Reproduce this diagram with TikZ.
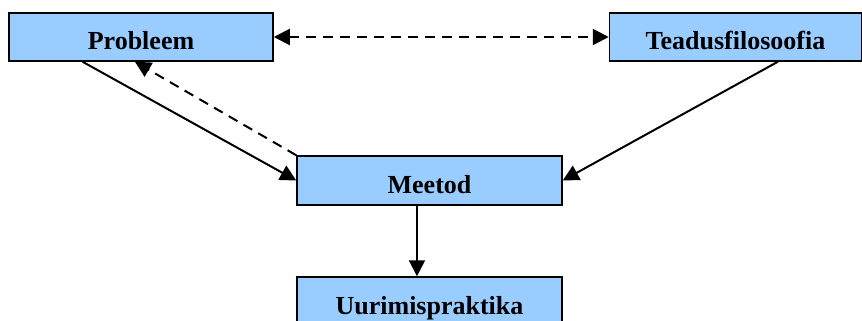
\documentclass[tikz,border=0pt]{standalone}
\usepackage{fontspec}
\setmainfont{Liberation Serif}
\usetikzlibrary{arrows.meta,calc}
\definecolor{boxblue}{HTML}{99CCFF}
\tikzset{
  tip/.tip={Triangle[length=16pt,width=16pt]},
  stage/.style={draw=black, line width=1.5pt, fill=boxblue, inner sep=0pt,
    minimum height=48pt, text height=25pt, text depth=0pt,
    font=\fontsize{26}{30}\selectfont\bfseries},
  flow/.style={line width=2pt, -tip},
  loose/.style={flow, dash pattern=on 10pt off 7pt},
}
\begin{document}
\begin{tikzpicture}[x=1pt,y=-1pt]
  \useasboundingbox (0,0) rectangle (862,321);
  \node[stage, minimum width=264pt] (prob) at (141,37) {Probleem};
  \node[stage, minimum width=252pt] (teadus) at (735.5,37) {Teadusfilosoofia};
  \node[stage, minimum width=265pt, minimum height=49pt] (meetod) at (429.5,180.5) {Meetod};
  \node[stage, minimum width=265pt, minimum height=49pt] (uurimis) at (429.5,301.5) {Uurimispraktika};

  \draw[loose, tip-tip] (prob.east) -- (teadus.west);
  \draw[flow] ($(prob.south west)!0.28!(prob.south east)$) -- (meetod.west);
  \draw[loose] (meetod.north west) -- ($(prob.south west)!0.477!(prob.south east)$);
  \draw[flow] ($(teadus.south west)!0.667!(teadus.south east)$) -- (meetod.east);
  \draw[flow] ($(meetod.south west)!0.453!(meetod.south east)$) -- ($(uurimis.north west)!0.453!(uurimis.north east)$);
\end{tikzpicture}
\end{document}
